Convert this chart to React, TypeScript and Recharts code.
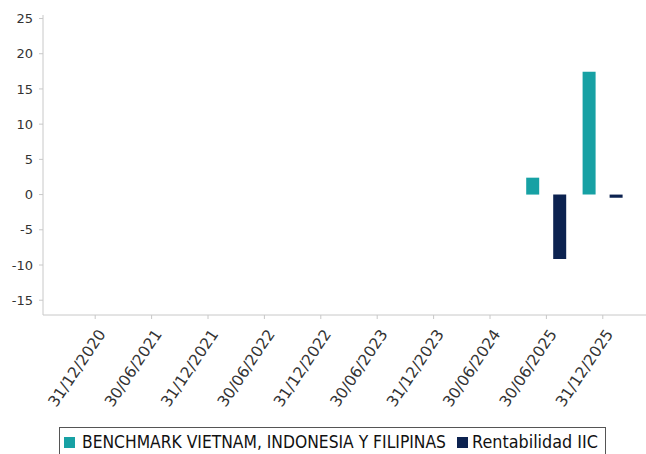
import React from 'react';
import { BarChart, Bar, XAxis, YAxis } from 'recharts';

const categories = [
  '31/12/2020', '30/06/2021', '31/12/2021', '30/06/2022', '31/12/2022',
  '30/06/2023', '31/12/2023', '30/06/2024', '30/06/2025', '31/12/2025',
];
const benchmark: (number | null)[] = [null, null, null, null, null, null, null, null, 2.4, 17.45];
const rentabilidad: (number | null)[] = [null, null, null, null, null, null, null, null, -9.15, -0.45];
const yTicks = [-15, -10, -5, 0, 5, 10, 15, 20, 25];
const seriesNames = ['BENCHMARK VIETNAM, INDONESIA Y FILIPINAS', 'Rentabilidad IIC'];
const colors = ['#17a1a4', '#0c2250'];

const data = categories.map((c, i) => ({ date: c, bench: benchmark[i], rent: rentabilidad[i] }));

const XTick = (props: any) => {
  const { x, y, payload } = props;
  return (
    <g transform={`translate(${x + 11},${y + 13})`}>
      <text
        transform="rotate(-56)"
        textAnchor="end"
        fontFamily="DejaVu Sans"
        fontSize={15.5}
        fill="#333"
      >
        {payload.value}
      </text>
    </g>
  );
};

export default function App() {
  return (
    <div style={{ position: 'absolute', left: 0, top: 0, width: 646, height: 454, background: '#fff', overflow: 'hidden' }}>
      <BarChart
        width={646}
        height={454}
        data={data}
        margin={{ top: 15, right: 0, bottom: 19, left: 0 }}
        barSize={13}
        barGap={14}
      >
        <XAxis
          dataKey="date"
          height={120}
          interval={0}
          padding={{ left: 24, right: 15 }}
          tick={<XTick />}
          tickSize={4}
          axisLine={{ stroke: '#c8c8c8' }}
          tickLine={{ stroke: '#c8c8c8' }}
        />
        <YAxis
          width={43}
          domain={[-17.1, 25.5]}
          ticks={yTicks}
          allowDataOverflow
          interval={0}
          tickSize={4}
          tickMargin={6}
          axisLine={{ stroke: '#c8c8c8' }}
          tickLine={{ stroke: '#c8c8c8' }}
          tick={{ fontFamily: 'DejaVu Sans', fontSize: 13, fill: '#333' }}
        />
        <Bar dataKey="bench" name={seriesNames[0]} fill={colors[0]} isAnimationActive={false} />
        <Bar dataKey="rent" name={seriesNames[1]} fill={colors[1]} isAnimationActive={false} />
      </BarChart>
      <div
        style={{
          position: 'absolute',
          left: 59,
          top: 427,
          width: 547,
          height: 40,
          border: '1px solid #555',
          boxSizing: 'border-box',
        }}
      />
      <svg style={{ position: 'absolute', left: 0, top: 0 }} width={646} height={454}>
        <rect x={64} y={437} width={11} height={11} fill={colors[0]} />
        <text x={82} y={448} fontFamily="DejaVu Sans" fontSize={17} fill="#111" textLength={364} lengthAdjust="spacingAndGlyphs">
          {seriesNames[0]}
        </text>
        <rect x={457} y={437} width={11} height={11} fill={colors[1]} />
        <text x={472} y={448} fontFamily="DejaVu Sans" fontSize={17} fill="#111" textLength={126} lengthAdjust="spacingAndGlyphs">
          {seriesNames[1]}
        </text>
      </svg>
    </div>
  );
}
